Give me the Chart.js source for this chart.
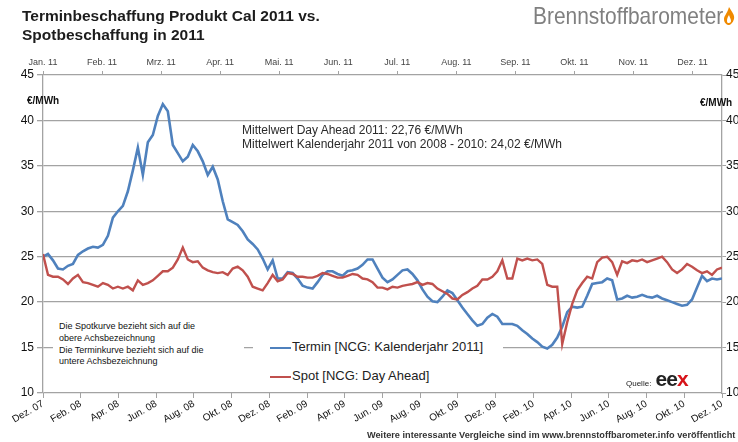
<!DOCTYPE html>
<html>
<head>
<meta charset="utf-8">
<script src="https://cdn.jsdelivr.net/npm/chart.js"></script>
<style>
body{margin:0;background:#fff;font-family:"Liberation Sans",Arial,sans-serif;}
#wrap{position:relative;width:738px;height:442px;overflow:hidden;background:#fff;}
#chart{position:absolute;left:0;top:0;}
.abs{position:absolute;white-space:nowrap;}
#title{left:22px;top:6px;font-size:15.5px;font-weight:bold;line-height:19px;color:#1c1c1c;}
#logo{left:533px;top:2px;font-size:24px;color:#808080;transform-origin:left top;}
#flame{left:723px;top:7px;}
.unit{font-size:10px;font-weight:bold;color:#111;}
#stats{left:242px;top:124px;font-size:12px;line-height:13.5px;color:#2a2a2a;}
#notes{left:53px;top:321px;width:185px;height:50px;background:#fff;padding-left:6px;font-size:9px;line-height:11.8px;color:#111;}
#legend{left:253px;top:336px;width:250px;height:54px;background:#fff;font-size:13px;color:#222;}
#legend div{position:absolute;left:17px;white-space:nowrap;}
#legend span{display:inline-block;width:21px;height:2px;vertical-align:middle;margin-right:1px;}
#quelle{left:626px;top:367px;font-size:8px;color:#222;}
#quelle b{font-size:21px;font-weight:900;letter-spacing:-1px;margin-left:2px;}
#footer{left:367px;top:430px;font-size:8.6px;font-weight:bold;color:#333;transform-origin:left top;}
</style>
</head>
<body>
<div id="wrap">
<canvas id="chart" width="738" height="442"></canvas>

<div id="title" class="abs">Terminbeschaffung Produkt Cal 2011 vs.<br>Spotbeschaffung in 2011</div>
<div id="logo" class="abs">Brennstoffbarometer</div>
<svg id="flame" class="abs" width="12" height="18" viewBox="0 0 12 18">
<path d="M6 0 C9 5 12 8 11 12 C10 16 7 18 6 18 C4 18 1 16 1 12 C1 9 4 7 6 0 Z M6 8 C4 11 4 13 4 14 C4 16 5 16 6 16 C7 16 8 15 8 14 C8 12 7 11 6 8 Z" fill="#f08a00" fill-rule="evenodd"/>
</svg>

<div class="abs unit" style="left:27px;top:95px;">€/MWh</div>
<div class="abs unit" style="left:700px;top:97px;">€/MWh</div>

<div id="stats" class="abs">Mittelwert Day Ahead 2011: 22,76 €/MWh<br>Mittelwert Kalenderjahr 2011 von 2008 - 2010: 24,02 €/MWh</div>

<div id="notes" class="abs">Die Spotkurve bezieht sich auf die<br>obere Achsbezeichnung<br>Die Terminkurve bezieht sich auf die<br>untere Achsbezeichnung</div>

<div id="legend" class="abs">
<div style="top:3px;"><span style="background:#4f81bd;"></span>Termin [NCG: Kalenderjahr 2011]</div>
<div style="top:32px;"><span style="background:#c0504d;"></span>Spot [NCG: Day Ahead]</div>
</div>

<div id="quelle" class="abs">Quelle: <b>ee<span style="color:#d7141a;">x</span></b></div>

<div id="footer" class="abs">Weitere interessante Vergleiche sind im www.brennstoffbarometer.info veröffentlicht</div>
</div>

<script>
// AXIS LABELS
let bottomLabels = ["Dez. 07","Feb. 08","Apr. 08","Jun. 08","Aug. 08","Okt. 08","Dez. 08","Feb. 09","Apr. 09","Jun. 09","Aug. 09","Okt. 09","Dez. 09","Feb. 10","Apr. 10","Jun. 10","Aug. 10","Okt. 10","Dez. 10"];
let topLabels = ["Jan. 11","Feb. 11","Mrz. 11","Apr. 11","Mai. 11","Jun. 11","Jul. 11","Aug. 11","Sep. 11","Okt. 11","Nov. 11","Dez. 11"];

// TERMIN (NCG CAL 2011), DEC 2007 - DEC 2010, ROUGHLY EVERY 8 DAYS
let terminValues = [
25.0,25.3,24.6,23.7,23.6,24.0,24.2,25.2,25.6,25.9,26.1,26.0,26.3,27.3,29.3,30.0,30.6,32.2,34.5,37.0,
34.0,37.6,38.4,40.5,41.8,41.0,37.3,36.4,35.5,36.0,37.3,36.6,35.5,34.0,34.9,33.5,31.1,29.1,28.8,28.5,
27.8,26.9,26.4,25.8,24.8,23.6,24.6,22.6,22.6,23.3,23.2,22.6,21.8,21.6,21.5,22.2,23.0,23.4,23.4,23.1,
22.9,23.4,23.5,23.7,24.1,24.7,24.7,23.7,22.7,22.2,22.5,23.0,23.5,23.6,23.1,22.4,21.4,20.6,20.1,20.0,
20.6,21.3,21.0,20.2,19.4,18.7,18.0,17.4,17.6,18.3,18.7,18.4,17.6,17.6,17.6,17.4,16.9,16.5,16.0,15.6,
15.1,14.9,15.3,16.1,17.3,18.9,19.5,19.4,19.5,20.7,22.0,22.1,22.2,22.6,22.4,20.3,20.4,20.7,20.5,20.6,
20.8,20.6,20.5,20.7,20.4,20.2,20.0,19.8,19.6,19.7,20.3,21.6,22.9,22.3,22.6,22.5,22.6
];

// SPOT (NCG DAY AHEAD), JAN 2011 - MID DEC 2011, ROUGHLY EVERY 2-3 DAYS
let spotValues = [
25.3,23.0,22.8,22.8,22.5,22.0,22.6,23.0,22.2,22.1,21.9,21.7,22.1,21.9,21.5,21.7,21.5,21.7,21.3,22.4,
21.9,22.1,22.4,22.9,23.4,23.4,23.8,24.7,26.0,24.7,24.4,24.5,23.8,23.5,23.3,23.2,23.3,23.0,23.7,23.9,
23.5,22.8,21.7,21.5,21.3,22.1,23.0,22.3,22.5,23.2,23.1,22.8,22.8,22.7,22.7,22.9,23.2,23.1,22.9,22.7,
22.7,22.9,23.1,23.0,22.6,22.5,22.2,21.6,21.6,21.4,21.7,21.6,21.8,21.9,22.0,22.2,21.9,22.1,22.0,21.5,
21.2,20.9,20.4,20.3,20.8,21.1,21.5,21.8,22.5,22.5,22.8,23.4,24.6,22.6,22.6,24.8,24.6,24.8,24.6,24.7,
24.2,21.9,21.7,21.7,15.4,17.8,19.8,21.3,22.1,22.8,22.6,24.4,24.9,25.0,24.4,23.0,24.5,24.3,24.6,24.5,
24.7,24.4,24.6,24.8,25.0,24.4,23.6,23.2,23.6,24.2,23.9,23.5,23.2,23.4,23.0,23.6,23.8
];

// MONTHS COVERED BY EACH SERIES
let terminMonths = 36;
let spotMonths = 11.5;

function toPoints(values, months){
let step = months / (values.length - 1);
return values.map((v,i)=>({x:i*step, y:v}));
}

let gridGray = "#a3a3a3";

// CHART
new Chart(document.getElementById("chart"),{

type:"line",

data:{
datasets:[
{
label:"Spot [NCG: Day Ahead]",
data:toPoints(spotValues, spotMonths),
xAxisID:"xt",
yAxisID:"y",
borderColor:"#c0504d",
borderWidth:2.4,
pointRadius:0,
tension:0
},
{
label:"Termin [NCG: Kalenderjahr 2011]",
data:toPoints(terminValues, terminMonths),
xAxisID:"xb",
yAxisID:"y",
borderColor:"#4f81bd",
borderWidth:2.6,
pointRadius:0,
tension:0
}
]
},

options:{
responsive:false,
animation:false,
layout:{padding:0},
plugins:{
legend:{display:false},
tooltip:{enabled:false}
},
scales:{
xb:{
type:"linear",
position:"bottom",
min:0,
max:terminMonths,
grid:{drawOnChartArea:false,tickLength:5,color:gridGray},
border:{display:false},
ticks:{
stepSize:2,
autoSkip:false,
maxRotation:30,
minRotation:30,
padding:0,
color:"#111",
font:{family:"Liberation Sans",size:10},
callback:v=>bottomLabels[Math.round(v/2)]
},
afterFit:s=>{s.height=49;}
},
xt:{
type:"linear",
position:"top",
min:0,
max:spotMonths,
grid:{drawOnChartArea:false,tickLength:4,color:gridGray},
border:{display:false},
ticks:{
stepSize:1,
includeBounds:false,
autoSkip:false,
maxRotation:0,
padding:3,
color:"#444",
font:{family:"Liberation Sans",size:9},
callback:v=>topLabels[v] || ""
},
afterFit:s=>{s.height=75;}
},
y:{
position:"left",
min:10,
max:45,
grid:{color:gridGray,lineWidth:1.3,tickLength:6},
border:{color:gridGray,width:1.3},
ticks:{
stepSize:5,
padding:3,
color:"#111",
font:{family:"Liberation Sans",size:12}
},
afterFit:s=>{s.width=43;}
},
y2:{
position:"right",
min:10,
max:45,
grid:{drawOnChartArea:false,color:gridGray,tickLength:4},
border:{color:gridGray,width:1.3},
ticks:{
stepSize:5,
padding:0,
color:"#111",
font:{family:"Liberation Sans",size:12}
},
afterFit:s=>{s.width=16;}
}
}
}

});

// SQUEEZE LOGO AND FOOTER TO THEIR WIDTHS
let logo = document.getElementById("logo");
logo.style.transform = "scaleX(" + (190 / logo.offsetWidth) + ")";

let footer = document.getElementById("footer");
footer.style.transform = "scaleX(" + (368 / footer.offsetWidth) + ")";
</script>
</body>
</html>
